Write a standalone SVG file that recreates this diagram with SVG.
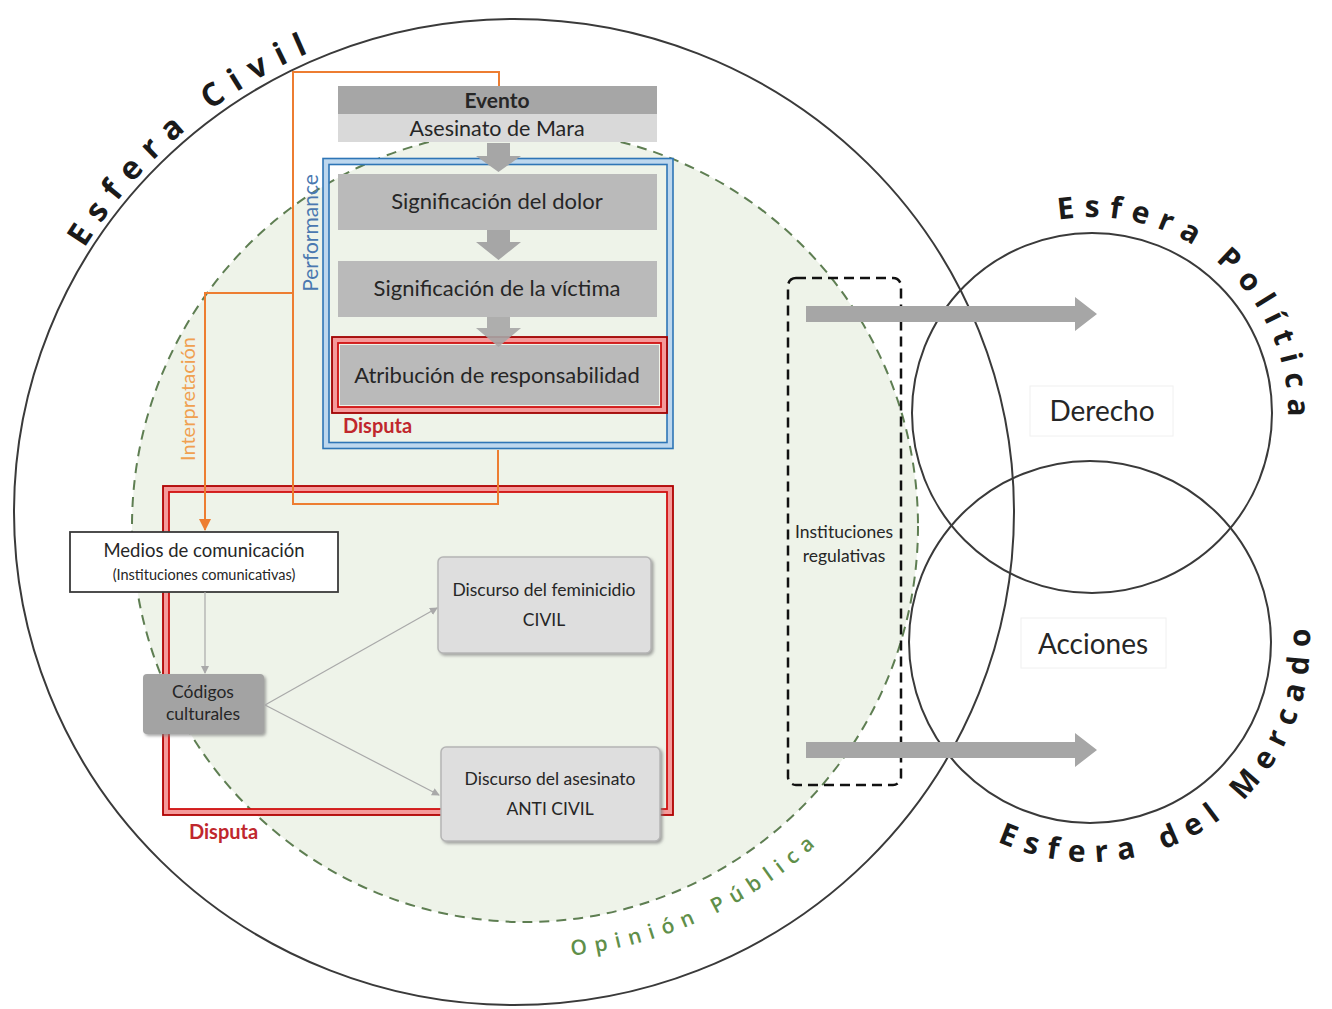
<svg xmlns="http://www.w3.org/2000/svg" width="1332" height="1009" viewBox="0 0 1332 1009">
<defs>
<style>
.t{font-family:Lato,"Open Sans","Liberation Sans",sans-serif;fill:#262626;text-anchor:middle}
.arc{font-family:"Open Sans",Lato,"Liberation Sans",sans-serif;font-weight:bold;fill:#1a1a1a}
.circ{fill:none;stroke:#3a3a3a;stroke-width:2}
.or{fill:none;stroke:#ed7d31;stroke-width:2}
.thin{fill:none;stroke:#a9a9a9;stroke-width:1.2}
.gbox{fill:#bababa}
.disc{fill:#dedede;stroke:#b5b5b5;stroke-width:1.5}
.blockarrow{fill:#a6a6a6}
.lbl{font-family:Lato,"Open Sans",sans-serif}
</style>
<filter id="sh" x="-10%" y="-10%" width="130%" height="130%">
<feDropShadow dx="2" dy="2" stdDeviation="1.5" flood-color="#808080" flood-opacity="0.7"/>
</filter>
<marker id="ah" markerWidth="8" markerHeight="8" refX="7" refY="4" orient="auto" markerUnits="userSpaceOnUse">
<path d="M0,0 L8,4 L0,8 z" fill="#a9a9a9"/>
</marker>
<marker id="aho" markerWidth="12" markerHeight="12" refX="11" refY="6" orient="auto" markerUnits="userSpaceOnUse">
<path d="M0,0 L12,6 L0,12 z" fill="#ed7d31"/>
</marker>
<path id="pCivil" d="M 58 297 A 502 502 0 0 1 514 10"/>
<path id="pPol" d="M 994 243.3 A 196 196 0 0 1 1276.2 480"/>
<path id="pMer" d="M 963.8 822.2 A 220 220 0 0 0 1302.5 585.1"/>
<path id="pOp" d="M 450 951.4 A 432 432 0 0 0 931 673.8"/>
</defs>

<rect width="1332" height="1009" fill="#ffffff"/>

<g id="esfera-civil">
<ellipse cx="514" cy="512" rx="500" ry="493" class="circ"/>
<text class="arc" font-size="32" letter-spacing="11.5"><textPath href="#pCivil" startOffset="212" text-anchor="middle">Esfera Civil</textPath></text>
</g>

<g id="opinion-publica">
<ellipse cx="525" cy="526" rx="393" ry="396" fill="#eef3e9" stroke="#5e7e52" stroke-width="2" stroke-dasharray="10 7"/>
<text font-family="'Open Sans',Lato,sans-serif" font-weight="600" font-size="21" fill="#5f8f4a" letter-spacing="8"><textPath href="#pOp" startOffset="262" text-anchor="middle">Opinión Pública</textPath></text>
</g>

<g id="esfera-politica">
<circle cx="1092" cy="413" r="180" class="circ"/>
<text class="arc" font-size="30" letter-spacing="9.5"><textPath href="#pPol" startOffset="246" text-anchor="middle">Esfera Política</textPath></text>
</g>

<g id="esfera-mercado">
<circle cx="1090" cy="642" r="181" class="circ"/>
<text class="arc" font-size="30" letter-spacing="10"><textPath href="#pMer" startOffset="271" text-anchor="middle">Esfera del Mercado</textPath></text>
</g>

<g id="derecho">
<rect x="1030" y="386" width="143" height="50" fill="#ffffff" stroke="#f0f0f0" stroke-width="1"/>
<text class="t" x="1102" y="421" font-size="28">Derecho</text>
</g>
<g id="acciones">
<rect x="1021" y="618" width="145" height="50" fill="#ffffff" stroke="#f0f0f0" stroke-width="1"/>
<text class="t" x="1093" y="654" font-size="28">Acciones</text>
</g>

<g id="disputa-grande">
<rect x="166" y="489" width="504" height="323" fill="none" stroke="#f59a9a" stroke-width="6"/>
<rect x="163" y="486" width="510" height="329" fill="none" stroke="#b00000" stroke-width="1.8"/>
<rect x="169" y="492" width="498" height="317" fill="none" stroke="#d01010" stroke-width="1.8"/>
<text class="lbl" x="189" y="839" font-weight="bold" font-size="20" fill="#c0272d">Disputa</text>
</g>

<g id="performance">
<rect x="326" y="161.5" width="344" height="284" fill="none" stroke="#bdd7ee" stroke-width="6"/>
<rect x="323" y="158.5" width="350" height="290" fill="none" stroke="#2e75b6" stroke-width="1.6"/>
<rect x="329" y="164.5" width="338" height="278" fill="none" stroke="#2e75b6" stroke-width="1.6"/>
<text class="lbl" transform="translate(318,233) rotate(-90)" font-size="21" fill="#4a78b0" text-anchor="middle">Performance</text>
<text class="lbl" x="343" y="433" font-weight="bold" font-size="20" fill="#c0272d">Disputa</text>
</g>

<g id="evento">
<rect x="338" y="86" width="319" height="28" fill="#a6a6a6"/>
<rect x="338" y="114" width="319" height="28" fill="#d9d9d9"/>
<text class="t" x="497" y="108" font-size="21" font-weight="bold">Evento</text>
<text class="t" x="497" y="136" font-size="21.5">Asesinato de Mara</text>
</g>

<g id="significacion-dolor">
<rect x="338" y="174" width="319" height="56" class="gbox"/>
<text class="t" x="497" y="209" font-size="22">Significación del dolor</text>
</g>

<g id="significacion-victima">
<rect x="338" y="261" width="319" height="56" class="gbox"/>
<text class="t" x="497" y="296" font-size="22">Significación de la víctima</text>
</g>

<g id="atribucion">
<rect x="335" y="340" width="329" height="70" fill="none" stroke="#f59a9a" stroke-width="6"/>
<rect x="332" y="337" width="335" height="76" fill="none" stroke="#a00000" stroke-width="1.8"/>
<rect x="338" y="343" width="323" height="64" fill="none" stroke="#d01010" stroke-width="1.8"/>
<rect x="340" y="345" width="319" height="60" class="gbox"/>
<text class="t" x="497" y="383" font-size="22">Atribución de responsabilidad</text>
</g>

<g id="medios">
<rect x="70" y="532" width="268" height="60" fill="#ffffff" stroke="#3a3a3a" stroke-width="1.8"/>
<text class="t" x="204" y="557" font-size="18.5">Medios de comunicación</text>
<text class="t" x="204" y="580" font-size="14.5">(Instituciones comunicativas)</text>
</g>

<g id="codigos">
<rect x="143" y="674" width="121" height="60" rx="4" fill="#a3a3a3" filter="url(#sh)"/>
<text class="t" x="203" y="698" font-size="17.5" fill="#333">Códigos</text>
<text class="t" x="203" y="720" font-size="17.5" fill="#333">culturales</text>
</g>

<g id="discurso-civil">
<rect x="438" y="557" width="213" height="96" rx="5" class="disc" filter="url(#sh)"/>
<text class="t" x="544" y="596" font-size="17.5">Discurso del feminicidio</text>
<text class="t" x="544" y="626" font-size="17.5">CIVIL</text>
</g>

<g id="discurso-anticivil">
<rect x="441" y="747" width="219" height="94" rx="5" class="disc" filter="url(#sh)"/>
<text class="t" x="550" y="785" font-size="17.5">Discurso del asesinato</text>
<text class="t" x="550" y="815" font-size="17.5">ANTI CIVIL</text>
</g>

<g id="instituciones-regulativas">
<rect x="788" y="278" width="113" height="507" rx="8" fill="none" stroke="#111" stroke-width="2.5" stroke-dasharray="10 6"/>
<text class="t" x="844" y="538" font-size="17.5" fill="#3a3a3a">Instituciones</text>
<text class="t" x="844" y="562" font-size="17.5" fill="#3a3a3a">regulativas</text>
</g>

<g id="connectors">
<path class="blockarrow" d="M487,143 H510 V156 H521 L498.5,172 L476,156 H487 Z"/>
<path class="blockarrow" d="M487,230 H510 V242 H521 L498.5,260 L476,242 H487 Z"/>
<path class="blockarrow" d="M487,317 H510 V328 H521 L498.5,347 L476,328 H487 Z" opacity="0.9"/>
<path class="or" d="M498,450 V504 H293 V72 H499 V86"/>
<path class="or" d="M293,293 H205 V530" marker-end="url(#aho)"/>
<text class="lbl" transform="translate(195,399) rotate(-90)" font-size="20" fill="#f0a050" text-anchor="middle">Interpretación</text>
<path class="thin" d="M205,592 V673" marker-end="url(#ah)"/>
<path class="thin" d="M265,705 L437,608" marker-end="url(#ah)"/>
<path class="thin" d="M265,705 L439,795" marker-end="url(#ah)"/>
<path class="blockarrow" d="M806,306 H1075 V297 L1097,314 L1075,331 V322 H806 Z"/>
<path class="blockarrow" d="M806,742 H1075 V733 L1097,750 L1075,767 V758 H806 Z"/>
</g>
</svg>
